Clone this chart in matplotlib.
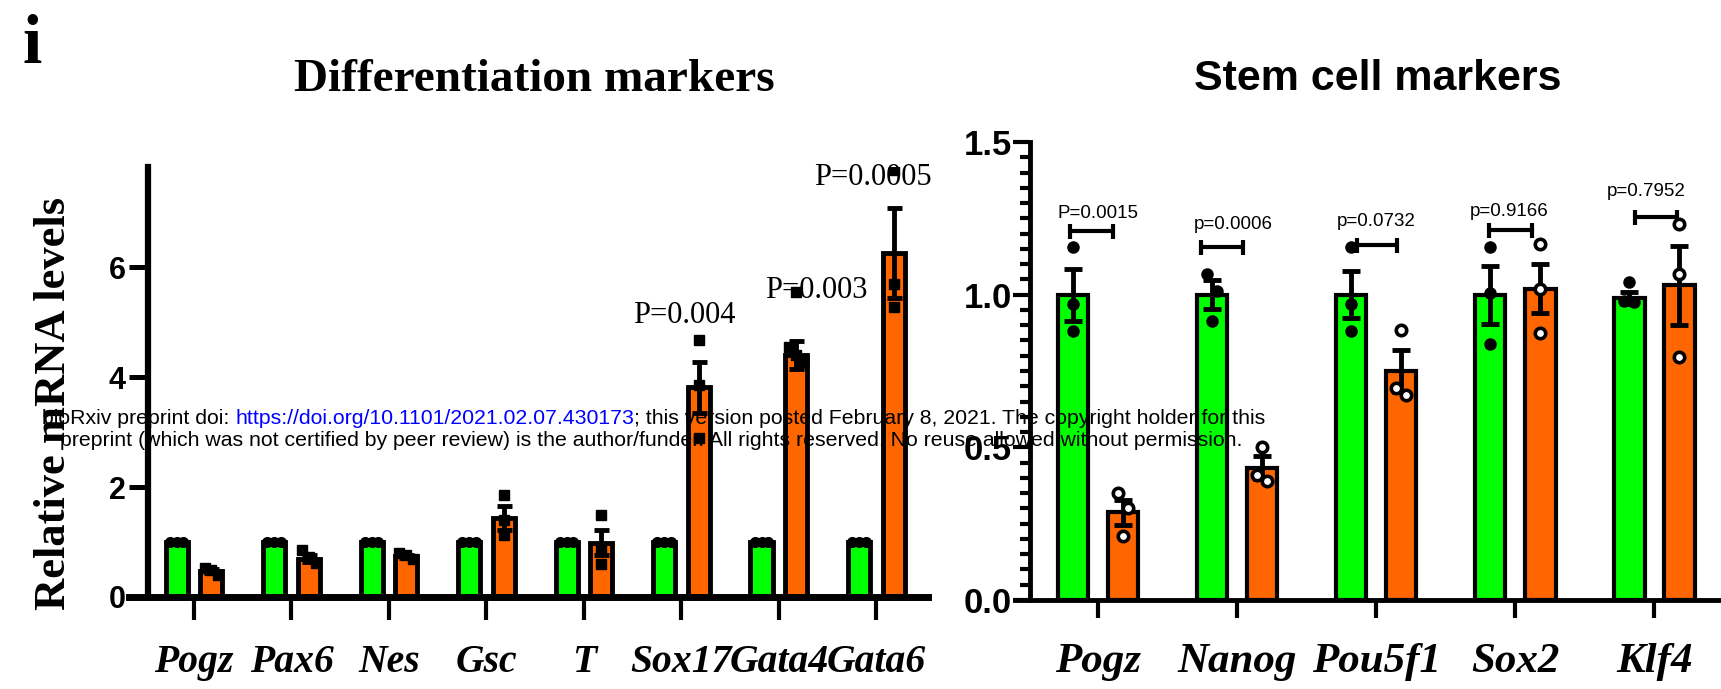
import numpy as np
import matplotlib.pyplot as plt
from matplotlib.text import Annotation
from matplotlib.ticker import MultipleLocator

# ---- data ----
diff_genes = ['Pogz', 'Pax6', 'Nes', 'Gsc', 'T', 'Sox17', 'Gata4', 'Gata6']
diff_ctrl_mean = [1.0, 1.0, 1.0, 1.0, 1.0, 1.0, 1.0, 1.0]
diff_ctrl_pts = [[1.0, 1.0, 1.0]] * 8
diff_ko_mean = [0.47, 0.70, 0.74, 1.44, 0.99, 3.81, 4.40, 6.25]
diff_ko_sem = [0.04, 0.07, 0.03, 0.22, 0.23, 0.46, 0.25, 0.82]
diff_ko_pts = [[0.53, 0.50, 0.40], [0.85, 0.72, 0.62], [0.80, 0.76, 0.70],
               [1.85, 1.40, 1.12], [1.49, 0.90, 0.60], [4.67, 3.85, 2.90],
               [5.55, 4.55, 4.40, 4.25], [7.76, 5.70, 5.27]]
diff_pvals = ['P=0.004', 'P=0.003', 'P=0.0005']

stem_genes = ['Pogz', 'Nanog', 'Pou5f1', 'Sox2', 'Klf4']
stem_ctrl_mean = [1.0, 1.0, 1.0, 1.0, 0.99]
stem_ctrl_sem = [0.085, 0.047, 0.078, 0.095, 0.02]
stem_ctrl_pts = [[1.157, 0.97, 0.88], [1.068, 1.013, 0.915], [1.155, 0.97, 0.88],
                 [1.157, 1.007, 0.84], [1.04, 0.98, 0.975]]
stem_ko_mean = [0.287, 0.433, 0.75, 1.02, 1.031]
stem_ko_sem = [0.04, 0.037, 0.07, 0.08, 0.13]
stem_ko_pts = [[0.35, 0.30, 0.21], [0.50, 0.41, 0.39], [0.885, 0.695, 0.67],
               [1.167, 1.02, 0.876], [1.23, 1.068, 0.795]]
stem_pvals = ['P=0.0015', 'p=0.0006', 'p=0.0732', 'p=0.9166', 'p=0.7952']

# annotation placement (layout)
diff_p_xy = [(5.03, 4.98), (6.38, 5.44), (6.96, 7.49)]
stem_brk_x = [(-0.20, 0.11), (-0.26, 0.04), (-0.14, 0.15), (-0.19, 0.12), (-0.14, 0.16)]
stem_brk_y = [1.21, 1.155, 1.163, 1.212, 1.255]
stem_txt_x = [0.0, 0.97, 2.0, 2.96, 3.94]
stem_txt_y = [1.252, 1.216, 1.225, 1.258, 1.324]

GREEN = '#00ff00'
ORANGE = '#ff6600'
SERIF = 'Liberation Serif'
SANS = 'Liberation Sans'
W, H = 1721, 689


def spread(vals, thr, d):
    # simple column scatter: points closer than thr get pushed sideways
    vals = np.asarray(vals, dtype=float)
    order = np.argsort(-vals, kind='stable')
    clusters = []
    for i in order:
        if clusters and abs(vals[clusters[-1][-1]] - vals[i]) < thr:
            clusters[-1].append(i)
        else:
            clusters.append([i])
    offs = np.zeros(len(vals))
    for c in clusters:
        for k, i in enumerate(c):
            offs[i] = (k - (len(c) - 1) / 2) * d
    return offs


fig = plt.figure(figsize=(W / 100, H / 100), dpi=100)

# ================= left panel =================
ax1 = fig.add_axes([129 / W, 92 / H, 799 / W, 430 / H])
x = np.arange(len(diff_genes))
off, bw = 0.178, 0.227
ax1.bar(x - off, diff_ctrl_mean, bw, color=GREEN, edgecolor='k', linewidth=3.5, zorder=2)
ax1.bar(x + off, diff_ko_mean, bw, color=ORANGE, edgecolor='k', linewidth=3.5, zorder=2)
ax1.errorbar(x + off, diff_ko_mean, yerr=diff_ko_sem, fmt='none', ecolor='k',
             elinewidth=3.5, capsize=5.4, capthick=3.5, zorder=3)
for i in range(len(diff_genes)):
    p = diff_ctrl_pts[i]
    ax1.plot(x[i] - off + spread(p, 0.16, 0.07), p, 'o', color='k', ms=7, zorder=4)
    p = diff_ko_pts[i]
    ax1.plot(x[i] + off + spread(p, 0.16, 0.07), p, 's', color='k', ms=7, zorder=4)
for txt, (px, py) in zip(diff_pvals, diff_p_xy):
    ax1.text(px, py, txt, ha='center', va='baseline', fontsize=22, family=SERIF, zorder=5)

ax1.set_xlim(-0.667, 7.53)
ax1.set_ylim(0, 7.82)
ax1.spines['top'].set_visible(False)
ax1.spines['right'].set_visible(False)
ax1.spines['left'].set_position(('data', -0.47))
ax1.spines['left'].set_linewidth(4.5)
ax1.spines['bottom'].set_linewidth(5)
ax1.set_xticks(x, diff_genes, fontsize=28.5, family=SERIF, weight='bold', style='italic')
ax1.set_yticks([0, 2, 4, 6], ['0', '2', '4', '6'], fontsize=22, family=SANS, weight='bold')
ax1.tick_params(axis='x', length=16.5, width=3, pad=17)
ax1.tick_params(axis='y', length=14, width=3.6, pad=2)

# ================= right panel =================
ax2 = fig.add_axes([1015 / W, 89 / H, 706 / W, 458 / H])
x2 = np.arange(len(stem_genes))
off2, bw2 = 0.18, 0.22
ax2.bar(x2 - off2, stem_ctrl_mean, bw2, color=GREEN, edgecolor='k', linewidth=3, zorder=2)
ax2.bar(x2 + off2, stem_ko_mean, bw2, color=ORANGE, edgecolor='k', linewidth=3, zorder=2)
ax2.errorbar(x2 - off2, stem_ctrl_mean, yerr=stem_ctrl_sem, fmt='none', ecolor='k',
             elinewidth=3.5, capsize=6.8, capthick=3.5, zorder=3)
ax2.errorbar(x2 + off2, stem_ko_mean, yerr=stem_ko_sem, fmt='none', ecolor='k',
             elinewidth=3.5, capsize=6.8, capthick=3.5, zorder=3)
for i in range(len(stem_genes)):
    p = stem_ctrl_pts[i]
    ax2.plot(x2[i] - off2 + spread(p, 0.058, 0.072), p, 'o', color='k', ms=8, zorder=4)
    p = stem_ko_pts[i]
    ax2.plot(x2[i] + off2 + spread(p, 0.058, 0.072), p, 'o', mfc='white', mec='k',
             ms=7.5, mew=2.6, zorder=4)
for i, txt in enumerate(stem_pvals):
    lo, hi = stem_brk_x[i]
    ax2.errorbar((2 * x2[i] + lo + hi) / 2, stem_brk_y[i], xerr=(hi - lo) / 2, fmt='none',
                 ecolor='k', elinewidth=3, capsize=5.4, capthick=3, zorder=3)
    ax2.text(stem_txt_x[i], stem_txt_y[i], txt, ha='center', va='baseline',
             fontsize=13.5, family=SANS, zorder=5)

ax2.set_xlim(-0.597, 4.48)
ax2.set_ylim(0, 1.5)
ax2.spines['top'].set_visible(False)
ax2.spines['right'].set_visible(False)
ax2.spines['left'].set_position(('data', -0.49))
ax2.spines['left'].set_linewidth(3.5)
ax2.spines['bottom'].set_linewidth(3.5)
ax2.set_xticks(x2, stem_genes, fontsize=31, family=SERIF, weight='bold', style='italic')
ax2.set_yticks([0, 0.5, 1.0, 1.5], ['0.0', '0.5', '1.0', '1.5'], fontsize=25,
               family=SANS, weight='bold')
ax2.yaxis.set_minor_locator(MultipleLocator(0.05))
ax2.tick_params(axis='x', length=13, width=3, pad=18)
ax2.tick_params(axis='y', which='major', length=12, width=3, pad=1)
ax2.tick_params(axis='y', which='minor', length=7, width=3)

# ================= figure text =================
fig.text(32 / W, 1 - 63 / H, 'i', fontsize=50, family=SERIF, weight='bold',
         ha='center', va='baseline')
fig.text(534 / W, 1 - 91 / H, 'Differentiation markers', fontsize=34, family=SERIF,
         weight='bold', ha='center', va='baseline')
fig.text(1378 / W, 1 - 90 / H, 'Stem cell markers', fontsize=31, family=SANS,
         weight='bold', ha='center', va='baseline')
fig.text(54 / W, 1 - 403 / H, 'Relative mRNA levels', fontsize=32, family=SERIF,
         weight='bold', rotation=90, ha='center', va='center')

# bioRxiv watermark on top of everything
WM = 15.35
t1 = fig.text(42 / W, 1 - 424 / H, 'bioRxiv preprint doi: ', fontsize=WM, family=SANS,
              va='baseline', zorder=10)
t2 = Annotation('https://doi.org/10.1101/2021.02.07.430173', xy=(1, 0), xycoords=t1,
                va='bottom', ha='left', fontsize=WM, family=SANS, color='#0000ff', zorder=10)
fig.add_artist(t2)
t3 = Annotation('; this version posted February 8, 2021. The copyright holder for this',
                xy=(1, 0), xycoords=t2, va='bottom', ha='left', fontsize=WM, family=SANS,
                zorder=10)
fig.add_artist(t3)
fig.text(60 / W, 1 - 446 / H, 'preprint (which was not certified by peer review) is the '
         'author/funder. All rights reserved. No reuse allowed without permission.',
         fontsize=WM, family=SANS, va='baseline', zorder=10)

fig.savefig('out.png', dpi=100)
